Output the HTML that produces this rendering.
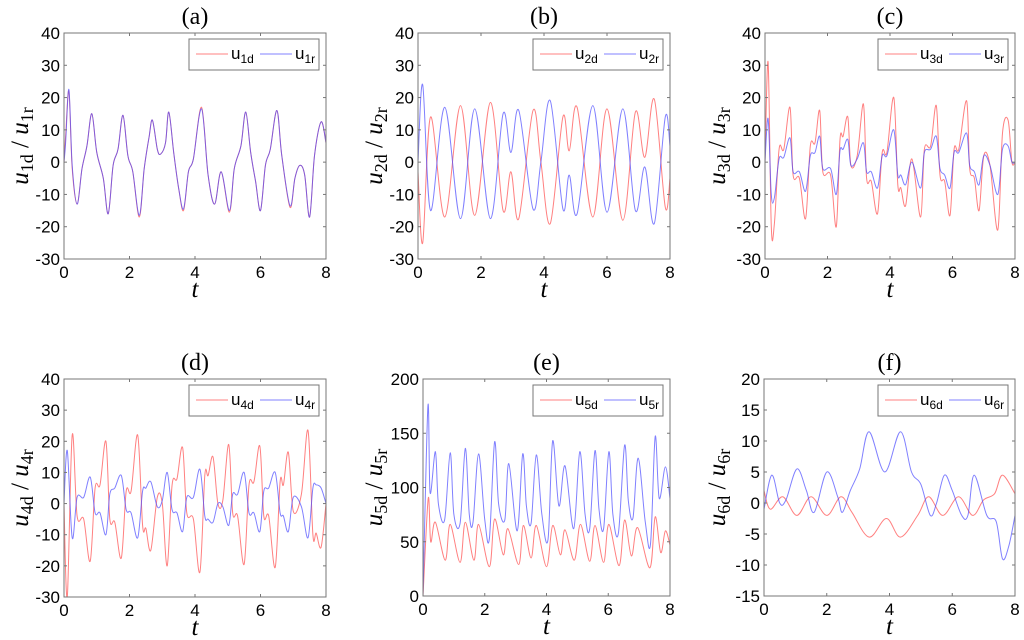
<!DOCTYPE html>
<html><head><meta charset="utf-8"><style>
html,body{margin:0;padding:0;background:#fff;}
svg{display:block;}
</style></head><body>
<svg id="fig" width="1024" height="640" viewBox="0 0 1024 640" xmlns="http://www.w3.org/2000/svg"></svg>
<script>
// ---- data ----
const xTicks = [0,2,4,6,8];
const yTicksA = [40,30,20,10,0,-10,-20,-30];
const yTicksE = [200,150,100,50,0];
const yTicksF = [20,15,10,5,0,-5,-10,-15];

const a_t = [0,0.05,0.15,0.25,0.4,0.55,0.7,0.85,1.0,1.2,1.35,1.5,1.65,1.8,1.95,2.1,2.3,2.45,2.6,2.7,2.85,2.95,3.1,3.2,3.35,3.5,3.65,3.8,3.95,4.2,4.4,4.6,4.8,5.05,5.2,5.4,5.55,5.7,5.85,6.0,6.15,6.3,6.5,6.65,6.9,7.05,7.2,7.35,7.5,7.65,7.85,8.0];
const a_d = [0,8,22,-2,-13,-2,5,15,3,-5,-16,-1,4,14.5,2,-3,-17,-2,8,13,4,2.5,6,15.5,3,-8,-15,-3,1,17,-4,-13,-3,-15.5,-2,5,15.5,3,-6,-15,-1,4,16,2,-14,-5,-1,-4,-17,2,12.5,6];
const a_r = [0,6,22.5,-1,-13,-2,5,15,3,-5,-16,-1,4,14.5,2,-3,-16.5,-2,8,13,4,2.5,6,15.5,3,-8,-14.5,-3,1,16.5,-4,-13,-3,-15,-2,5,15.5,3,-6,-15,-1,4,16,2,-13.5,-5,-1,-4,-17,2,12.5,6];

const b_dt = [0,0.15,0.4,0.85,1.35,1.8,2.3,2.7,2.95,3.2,3.65,3.9,4.2,4.6,4.8,5.05,5.55,6.0,6.5,6.9,7.2,7.5,7.85,8.0];
const b_d = [-3,-25,14,-17,17.5,-16.5,18.5,-15,-3,-17.5,16,0,-19,14,3.5,17,-17,16.5,-18,15.5,1.5,19.5,-14,-5];
const b_r = [0,24,-15,17,-17.5,16.5,-17.5,15,3,16,-14.5,0,19,-14.5,-4,-16,17.5,-15.5,16.5,-15,-1.5,-19,14,5];

const c_t = [0,0.1,0.2,0.3,0.45,0.6,0.8,0.9,1.1,1.3,1.45,1.6,1.75,1.85,2.1,2.28,2.4,2.5,2.65,2.75,2.95,3.15,3.25,3.4,3.6,3.75,3.9,4.12,4.25,4.35,4.5,4.7,4.98,5.1,5.3,5.48,5.6,5.75,5.92,6.05,6.2,6.45,6.55,6.7,6.85,7.0,7.2,7.45,7.6,7.78,7.9,8.0];
const c_d = [0,31,-20,-19,4,4,17,-4,-5,-17.5,5,6,16,-3,-4,-20,7,8,14,-1,2,18,-5,-6,-16,3,3,20,-7,-8,-13.5,1,-17,4,5,17.5,-4,-6,-16.5,4,4,19,-2,-5,-15,2,-1,-21,9,13,0,0];
const c_r = [0,13.5,-10,-11,1,1.5,7.5,-3,-3,-9,2,3,8,-2,-2,-10,3.5,4,7,-1,1,6,-3,-3,-8,2,2,10,-4,-4,-7,0,-8,3,4,8,-2,-4,-8,3,3,9,-1,-3,-7,2,-1,-10,4,5,0,0];

const d_dt = [0,0.1,0.25,0.4,0.6,0.8,0.95,1.1,1.28,1.4,1.55,1.75,1.9,2.05,2.25,2.4,2.5,2.65,2.85,3.0,3.15,3.3,3.45,3.62,3.75,3.95,4.15,4.3,4.4,4.55,4.7,4.85,5.03,5.15,5.3,5.5,5.65,5.8,5.98,6.1,6.25,6.45,6.6,6.7,6.85,7.0,7.25,7.45,7.6,7.7,7.85,8.0];
const d_d = [0,-30,22,-4,-5,-18.5,5,6,20,-5,-6,-17.5,4,4,22,-7,-8,-15,2,0,-20,6,8,18,-3,-5,-22,9,9,15,0,1,19,-3,-4,-19.5,6,7,18.5,-4,-4,-20.5,7,6,16.5,-2.5,3,23.5,-10,-9.5,-14,0];
const d_r = [0,17,-11,2,2,8.5,-3,-3,-10,3,5,9,-2,-3,-11,4,5,7,-1,1,10,-2,-3,-9,2,2,11,-4,-5,-6,0,-1,-7,3,3,10,-3,-3,-9,4,5,10,-3,-4,-9,2,-1,-11,5,6,5,0];

const e_dt = [0,0.17,0.25,0.4,0.72,0.88,1.2,1.37,1.65,1.8,2.15,2.32,2.6,2.75,3.1,3.25,3.5,3.67,4.0,4.2,4.45,4.6,4.9,5.1,5.4,5.57,5.85,6.02,6.35,6.53,6.75,6.95,7.35,7.52,7.7,7.85,8.0];
const e_d = [0,90,50,68,33,66,31,68,33,66,27,71,38,62,29,65,35,65,27,65,38,61,33,66,32,65,31,66,28,70,37,63,26,73,40,60,47];
const e_rt = [0,0.16,0.23,0.4,0.5,0.7,0.88,1.0,1.2,1.37,1.5,1.62,1.8,2.0,2.15,2.32,2.45,2.65,2.78,3.05,3.23,3.35,3.5,3.67,3.85,4.05,4.2,4.4,4.6,4.88,5.08,5.25,5.4,5.57,5.7,5.85,6.02,6.15,6.33,6.53,6.65,6.8,6.97,7.2,7.37,7.52,7.65,7.85,8.0];
const e_r = [0,175,95,133,85,70,132,75,67,136,75,68,131,70,53,142,85,70,122,60,131,83,67,130,75,52,143,83,120,62,133,75,62,134,80,62,133,75,58,139,88,72,127,68,48,147,90,119,90];

const f_dt = [0,0.2,0.6,1.05,1.5,2.0,2.45,2.8,3.35,3.9,4.35,4.9,5.25,5.7,6.2,6.65,7.0,7.35,7.6,8.0];
const f_d = [2,-1,1,-2,1,-2,1,-1.5,-5.5,-2.5,-5.5,-2,1,-2,1,-2,0.5,1.5,4.5,1.5];
const f_rt = [0,0.25,0.5,0.7,1.05,1.35,1.6,2.0,2.35,2.5,2.75,3.05,3.35,3.85,4.35,4.7,5.0,5.3,5.5,5.75,6.0,6.3,6.5,6.7,7.1,7.4,7.6,7.8,8.0];
const f_r = [-1,4.5,0,0.5,5.5,2,-1.5,5,1,-1.5,2,5.5,11.5,5,11.5,5,3,-2,0,4.5,2,-2,-2,4.5,-2,-3,-9,-7,-2];

// ---- drawing ----
const NS = 'http://www.w3.org/2000/svg';
const svg = document.getElementById('fig');
function mk(tag, attrs, parent){
  const e = document.createElementNS(NS, tag);
  for (const k in attrs) e.setAttribute(k, attrs[k]);
  (parent||svg).appendChild(e);
  return e;
}
const RED = '#ff4a4a', BLUE = '#4a4aff';

const panels = [
  {id:'a', n:'1', x0:64, x1:326, y0:33, y1:259, ymin:-30, ymax:40, ticks:yTicksA, ylx:19,
   s:[[a_t,a_d,RED],[a_t,a_r,BLUE]]},
  {id:'b', n:'2', x0:418, x1:670, y0:33, y1:259, ymin:-30, ymax:40, ticks:yTicksA, ylx:373,
   s:[[b_dt,b_d,RED],[b_dt,b_r,BLUE]]},
  {id:'c', n:'3', x0:765, x1:1015, y0:33, y1:259, ymin:-30, ymax:40, ticks:yTicksA, ylx:716,
   s:[[c_t,c_d,RED],[c_t,c_r,BLUE]]},
  {id:'d', n:'4', x0:64, x1:326, y0:379, y1:597, ymin:-30, ymax:40, ticks:yTicksA, ylx:19,
   s:[[d_dt,d_d,RED],[d_dt,d_r,BLUE]]},
  {id:'e', n:'5', x0:423, x1:670, y0:379, y1:596, ymin:0, ymax:200, ticks:yTicksE, ylx:373,
   s:[[e_dt,e_d,RED],[e_rt,e_r,BLUE]]},
  {id:'f', n:'6', x0:764, x1:1015, y0:379, y1:596, ymin:-15, ymax:20, ticks:yTicksF, ylx:716,
   s:[[f_dt,f_d,RED],[f_rt,f_r,BLUE]]}
];

function splinePath(pts){
  let d = 'M' + pts[0][0].toFixed(1) + ',' + pts[0][1].toFixed(1);
  for (let i=0;i<pts.length-1;i++){
    const p0 = pts[Math.max(0,i-1)], p1 = pts[i], p2 = pts[i+1], p3 = pts[Math.min(pts.length-1,i+2)];
    const c1x = p1[0] + (p2[0]-p0[0])/6, c1y = p1[1] + (p2[1]-p0[1])/6;
    const c2x = p2[0] - (p3[0]-p1[0])/6, c2y = p2[1] - (p3[1]-p1[1])/6;
    d += 'C' + c1x.toFixed(1)+','+c1y.toFixed(1)+' '+c2x.toFixed(1)+','+c2y.toFixed(1)+' '+p2[0].toFixed(1)+','+p2[1].toFixed(1);
  }
  return d;
}

panels.forEach(p => {
  const g = mk('g', {});
  
  
  const xs = t => p.x0 + (t/8)*(p.x1-p.x0);
  const ys = v => p.y1 - (v-p.ymin)/(p.ymax-p.ymin)*(p.y1-p.y0);
  const cx = (p.x0+p.x1)/2, cy = (p.y0+p.y1)/2;

  const title = mk('text', {x:cx, y:p.y0-9, 'text-anchor':'middle', 'font-family':'Liberation Serif, serif', 'font-size':'24'}, g);
  title.textContent = '(' + p.id + ')';
  
  

  const cp = mk('clipPath', {id:'clip-'+p.id}, g);
  mk('rect', {x:p.x0, y:p.y0, width:p.x1-p.x0, height:p.y1-p.y0}, cp);

  p.s.forEach((s, k) => {
    const pts = s[0].map((t,i) => [xs(t), ys(s[1][i])]);
    const path = mk('path', {d:splinePath(pts), fill:'none', stroke:s[2], 'stroke-width':'1', 'stroke-opacity':'0.7', 'clip-path':'url(#clip-'+p.id+')'}, g);
    
    
  });

  const box = mk('rect', {x:p.x0, y:p.y0, width:p.x1-p.x0, height:p.y1-p.y0, fill:'none', stroke:'#777', 'stroke-width':'1'}, g);
  
  

  xTicks.forEach(t => {
    const x = xs(t);
    mk('line', {x1:x, x2:x, y1:p.y1, y2:p.y1-3, stroke:'#777'}, g);
    mk('line', {x1:x, x2:x, y1:p.y0, y2:p.y0+3, stroke:'#777'}, g);
    const tl = mk('text', {x:x, y:p.y1+19, 'text-anchor':'middle', 'font-family':'Liberation Sans, sans-serif', 'font-size':'17'}, g);
    tl.textContent = t;
    
    
  });
  p.ticks.forEach(v => {
    const y = ys(v);
    mk('line', {x1:p.x0, x2:p.x0+3, y1:y, y2:y, stroke:'#777'}, g);
    mk('line', {x1:p.x1, x2:p.x1-3, y1:y, y2:y, stroke:'#777'}, g);
    const tl = mk('text', {x:p.x0-4, y:y+6, 'text-anchor':'end', 'font-family':'Liberation Sans, sans-serif', 'font-size':'17'}, g);
    tl.textContent = v;
    
    
  });

  const xl = mk('text', {x:cx, y:p.y1+38, 'text-anchor':'middle', 'font-family':'Liberation Serif, serif', 'font-style':'italic', 'font-size':'25'}, g);
  xl.textContent = 't';
  
  

  const yl = mk('text', {x:0, y:0, 'text-anchor':'middle', 'font-family':'Liberation Serif, serif', 'font-size':'25', transform:'translate('+(p.ylx+9)+','+cy+') rotate(-90)'}, g);
  
  
  yl.innerHTML = '<tspan font-style="italic">u</tspan><tspan font-size="18" dy="5">' + p.n + 'd</tspan><tspan dy="-5"> / </tspan><tspan font-style="italic">u</tspan><tspan font-size="18" dy="5">' + p.n + 'r</tspan>';

  const lx = p.x1 - 137, ly = p.y0 + 6;
  const lg = mk('g', {}, g);
  
  
  mk('rect', {x:lx, y:ly, width:130, height:31, fill:'#fff', stroke:'#777', 'stroke-width':'1'}, lg);
  mk('line', {x1:lx+7, x2:lx+39, y1:ly+15, y2:ly+15, stroke:RED, 'stroke-width':'1', 'stroke-opacity':'0.7'}, lg);
  const t1 = mk('text', {x:lx+42, y:ly+20, 'font-family':'Liberation Sans, sans-serif', 'font-size':'17'}, lg);
  t1.innerHTML = 'u<tspan font-size="12" dy="4">' + p.n + 'd</tspan>';
  
  
  mk('line', {x1:lx+71, x2:lx+103, y1:ly+15, y2:ly+15, stroke:BLUE, 'stroke-width':'1', 'stroke-opacity':'0.7'}, lg);
  const t2 = mk('text', {x:lx+106, y:ly+20, 'font-family':'Liberation Sans, sans-serif', 'font-size':'17'}, lg);
  t2.innerHTML = 'u<tspan font-size="12" dy="4">' + p.n + 'r</tspan>';
  
  
});
</script>
</body></html>
